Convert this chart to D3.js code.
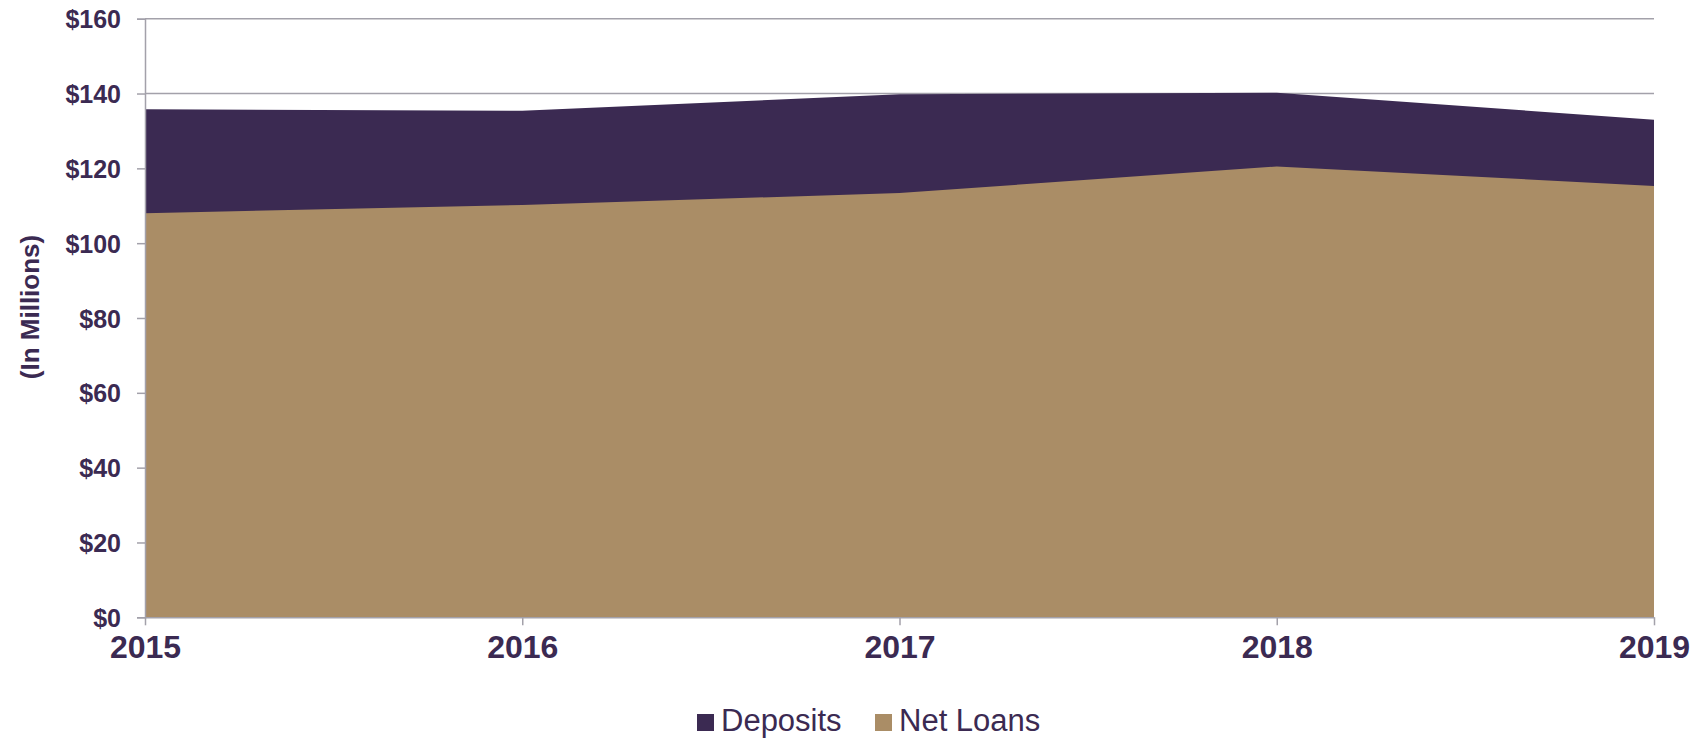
<!DOCTYPE html>
<html>
<head>
<meta charset="utf-8">
<script src="https://cdn.jsdelivr.net/npm/d3@7"></script>
<style>
  body { margin: 0; background: #fff; }
  svg { display: block; font-family: "Liberation Sans", Arial, sans-serif; }
</style>
</head>
<body>
<script>
// chart data
const years = [2015, 2016, 2017, 2018, 2019];
const deposits = [135.8, 135.4, 139.8, 140.2, 133.0];
const netLoans = [108.0, 110.2, 113.4, 120.5, 115.3];
const yTicks = [0, 20, 40, 60, 80, 100, 120, 140, 160];
const seriesNames = ["Deposits", "Net Loans"];

const width = 1705, height = 739;
const margin = {top: 18.7, right: 51, bottom: 121.7, left: 145};
const purple = "#3b2a52", tan = "#aa8d66", grey = "#a3a1aa";

const svg = d3.select("body").append("svg")
  .attr("width", width)
  .attr("height", height);

const x = d3.scalePoint()
  .domain(years)
  .range([margin.left, width - margin.right]);

const y = d3.scaleLinear()
  .domain([0, 160])
  .range([height - margin.bottom, margin.top]);

// gridlines
svg.append("g")
  .selectAll("line")
  .data(yTicks.filter(d => d > 0))
  .join("line")
  .attr("x1", margin.left)
  .attr("x2", width - margin.right)
  .attr("y1", d => y(d))
  .attr("y2", d => y(d))
  .attr("stroke", grey)
  .attr("stroke-width", 1.5);

const area = d3.area()
  .x(d => x(d.year))
  .y0(y(0))
  .y1(d => y(d.value));

// deposits drawn first, net loans overlaid
svg.append("path")
  .datum(years.map((yr, i) => ({year: yr, value: deposits[i]})))
  .attr("fill", purple)
  .attr("d", area);

svg.append("path")
  .datum(years.map((yr, i) => ({year: yr, value: netLoans[i]})))
  .attr("fill", tan)
  .attr("d", area);

// y axis
const yAxis = svg.append("g")
  .attr("transform", `translate(${margin.left},0)`)
  .call(d3.axisLeft(y).tickValues(yTicks).tickSize(8).tickPadding(16).tickFormat(d => "$" + d));
yAxis.select(".domain").attr("stroke", grey).attr("stroke-width", 1.5);
yAxis.selectAll(".tick line").attr("stroke", grey).attr("stroke-width", 1.5);
yAxis.selectAll("text")
  .attr("fill", purple)
  .attr("font-size", 25)
  .attr("font-weight", "bold")
  .attr("dy", "0.36em");

// x axis
const xAxis = svg.append("g")
  .attr("transform", `translate(0,${height - margin.bottom})`)
  .call(d3.axisBottom(x).tickSize(8).tickPadding(10).tickSizeOuter(0));
xAxis.select(".domain").attr("stroke", grey).attr("stroke-width", 1.5);
xAxis.selectAll(".tick line").attr("stroke", grey).attr("stroke-width", 1.5);
xAxis.selectAll("text")
  .attr("fill", purple)
  .attr("font-size", 32)
  .attr("font-weight", "bold");

// y title
svg.append("text")
  .attr("transform", "translate(30,307) rotate(-90)")
  .attr("text-anchor", "middle")
  .attr("dy", "0.35em")
  .attr("fill", purple)
  .attr("font-size", 26)
  .attr("font-weight", "bold")
  .text("(In Millions)");

// legend
const legendColors = [purple, tan];
const legendX = [697, 875];
const legend = svg.append("g")
  .selectAll("g")
  .data(seriesNames)
  .join("g")
  .attr("transform", (d, i) => `translate(${legendX[i]},714)`);
legend.append("rect")
  .attr("width", 17)
  .attr("height", 17)
  .attr("fill", (d, i) => legendColors[i]);
legend.append("text")
  .attr("x", 24)
  .attr("y", 16.5)
  .attr("fill", purple)
  .attr("font-size", 31)
  .text(d => d);
</script>
</body>
</html>
